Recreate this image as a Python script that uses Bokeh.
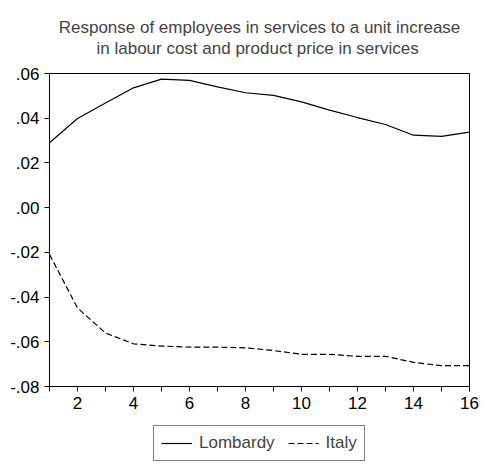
from bokeh.plotting import figure
from bokeh.models import FixedTicker, Legend, LegendItem
from bokeh.layouts import column
from bokeh.embed import file_html
from bokeh.resources import INLINE

# ---- data ----
periods = list(range(1, 17))
lombardy = [0.0290, 0.0399, 0.0468, 0.0536, 0.0575, 0.0569, 0.0540, 0.0514,
            0.0502, 0.0473, 0.0436, 0.0403, 0.0372, 0.0324, 0.0319, 0.0338]
italy = [-0.0209, -0.0449, -0.0561, -0.0609, -0.0619, -0.0624, -0.0624, -0.0627,
         -0.0639, -0.0656, -0.0656, -0.0665, -0.0665, -0.0692, -0.0707, -0.0707]
series_names = ["Lombardy", "Italy"]
y_ticks = [-0.08, -0.06, -0.04, -0.02, 0.00, 0.02, 0.04, 0.06]
y_tick_labels = ["-.08", "-.06", "-.04", "-.02", ".00", ".02", ".04", ".06"]
x_major = [2, 4, 6, 8, 10, 12, 14, 16]
x_minor = [1, 3, 5, 7, 9, 11, 13, 15]
title_lines = ["Response of employees in services to a unit increase",
               "in labour cost and product price in services"]

FONT = "Liberation Sans"
FS = "17px"

p = figure(width=480, height=420, output_backend="svg", toolbar_location=None,
           x_range=(1, 16), y_range=(-0.08, 0.06),
           min_border_left=49, min_border_right=11, min_border_top=71,
           min_border_bottom=34)

# second line indented with no-break spaces so that it is centred under the first
p.title.text = title_lines[0] + "\n" + "\u00a0" * 8 + title_lines[1]
p.title.align = "center"
p.title.text_font = FONT
p.title.text_font_size = FS
p.title.text_font_style = "normal"
p.title.text_line_height = 1.08
p.title.standoff = 31

p.xgrid.visible = False
p.ygrid.visible = False
p.outline_line_color = "black"
p.outline_line_width = 1
p.background_fill_color = "white"
p.border_fill_color = "white"

style1 = dict(line_color="black", line_width=1.2)
style2 = dict(line_color="black", line_width=1.2, line_dash="6 3")
p.line(periods, lombardy, **style1)
p.line(periods, italy, **style2)

xa = p.xaxis[0]
xa.ticker = FixedTicker(ticks=x_major, minor_ticks=x_minor)
xa.major_tick_in = 0
xa.major_tick_out = 5
xa.minor_tick_in = 0
xa.minor_tick_out = 5
xa.major_label_text_font = FONT
xa.major_label_text_font_size = FS
xa.major_label_text_color = "black"
xa.axis_line_color = "black"
xa.major_tick_line_color = "black"
xa.minor_tick_line_color = "black"

ya = p.yaxis[0]
ya.ticker = FixedTicker(ticks=y_ticks, minor_ticks=[])
ya.major_label_overrides = {t: l for t, l in zip(y_ticks, y_tick_labels)}
ya.major_tick_in = 0
ya.major_tick_out = 5
ya.minor_tick_in = 0
ya.minor_tick_out = 0
ya.major_label_text_font = FONT
ya.major_label_text_font_size = FS
ya.major_label_text_color = "black"
ya.axis_line_color = "black"
ya.major_tick_line_color = "black"

# legend strip below the chart (its lines carry the data but lie outside its view)
p2 = figure(width=480, height=42, output_backend="svg", toolbar_location=None,
            x_axis_type=None, y_axis_type=None,
            min_border_left=0, min_border_right=0, min_border_top=0,
            min_border_bottom=0, x_range=(100, 101), y_range=(100, 101))
p2.outline_line_color = None
p2.xgrid.visible = False
p2.ygrid.visible = False
l1 = p2.line(periods, lombardy, **style1)
l2 = p2.line(periods, italy, **style2)
legend = Legend(items=[LegendItem(label=series_names[0], renderers=[l1]),
                       LegendItem(label=series_names[1], renderers=[l2])],
                orientation="horizontal", location=(104, 1),
                border_line_color="black", border_line_width=1,
                label_text_font=FONT, label_text_font_size=FS,
                glyph_width=31, glyph_height=18, label_height=18,
                padding=7, spacing=13, margin=0, label_standoff=7)
p2.add_layout(legend, "center")

layout = column(p, p2, spacing=0)
open("out.html", "w").write(file_html(layout, INLINE))
